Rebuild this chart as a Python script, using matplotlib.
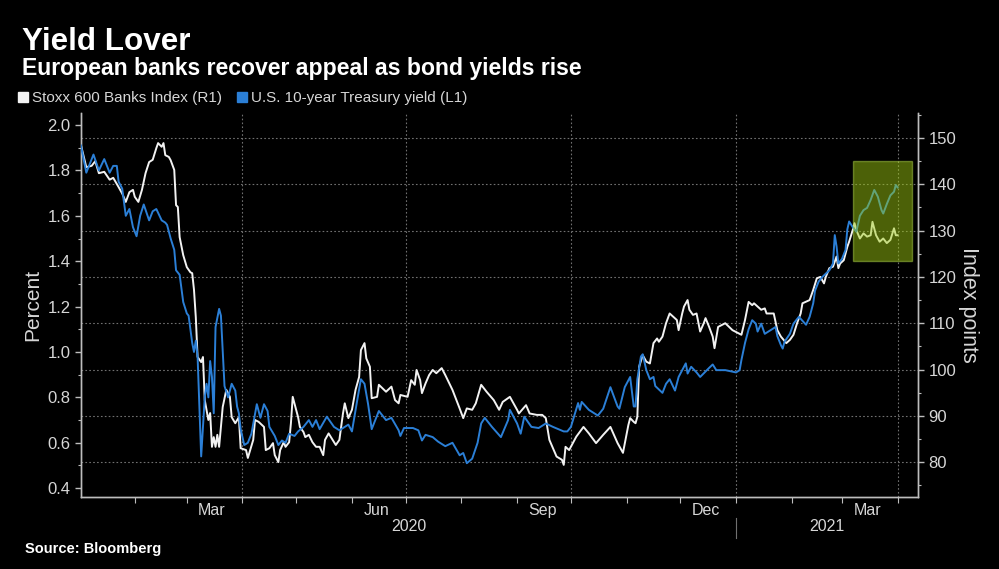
import pandas as pd
import matplotlib
matplotlib.use('Agg')
import matplotlib.pyplot as plt
import matplotlib.dates as mdates
import matplotlib.transforms as mtransforms
from matplotlib.lines import Line2D
from matplotlib.patches import Rectangle
from matplotlib.ticker import MultipleLocator, FormatStrFormatter

plt.rcParams['font.family'] = ['Liberation Sans', 'DejaVu Sans']

# Stoxx 600 Banks Index (right axis, index points)
bank_dates = [
    '2020-01-02', '2020-01-05', '2020-01-08', '2020-01-10', '2020-01-12', '2020-01-15', '2020-01-18',
    '2020-01-20', '2020-01-23', '2020-01-25', '2020-01-27', '2020-01-29', '2020-01-31', '2020-02-01',
    '2020-02-03', '2020-02-05', '2020-02-07', '2020-02-09', '2020-02-11', '2020-02-13', '2020-02-14',
    '2020-02-16', '2020-02-17', '2020-02-18', '2020-02-20', '2020-02-21', '2020-02-23', '2020-02-24',
    '2020-02-25', '2020-02-26', '2020-02-28', '2020-03-01', '2020-03-03', '2020-03-04', '2020-03-05',
    '2020-03-06', '2020-03-07', '2020-03-09', '2020-03-10', '2020-03-11', '2020-03-12', '2020-03-13',
    '2020-03-14', '2020-03-15', '2020-03-16', '2020-03-17', '2020-03-18', '2020-03-19', '2020-03-21',
    '2020-03-23', '2020-03-25', '2020-03-26', '2020-03-28', '2020-03-30', '2020-03-31', '2020-04-03',
    '2020-04-04', '2020-04-07', '2020-04-08', '2020-04-10', '2020-04-13', '2020-04-14', '2020-04-16',
    '2020-04-18', '2020-04-19', '2020-04-21', '2020-04-22', '2020-04-24', '2020-04-25', '2020-04-27',
    '2020-04-28', '2020-04-29', '2020-05-02', '2020-05-03', '2020-05-05', '2020-05-06', '2020-05-08',
    '2020-05-10', '2020-05-12', '2020-05-14', '2020-05-16', '2020-05-17', '2020-05-19', '2020-05-23',
    '2020-05-25', '2020-05-27', '2020-05-28', '2020-05-30', '2020-06-01', '2020-06-03', '2020-06-05',
    '2020-06-06', '2020-06-08', '2020-06-09', '2020-06-11', '2020-06-12', '2020-06-15', '2020-06-16',
    '2020-06-20', '2020-06-23', '2020-06-25', '2020-06-27', '2020-06-28', '2020-07-02', '2020-07-04',
    '2020-07-06', '2020-07-07', '2020-07-09', '2020-07-10', '2020-07-12', '2020-07-14', '2020-07-16',
    '2020-07-18', '2020-07-21', '2020-07-23', '2020-07-27', '2020-07-31', '2020-08-02', '2020-08-04',
    '2020-08-07', '2020-08-09', '2020-08-12', '2020-08-15', '2020-08-19', '2020-08-22', '2020-08-24',
    '2020-08-28', '2020-09-01', '2020-09-02', '2020-09-06', '2020-09-08', '2020-09-12', '2020-09-15',
    '2020-09-17', '2020-09-19', '2020-09-23', '2020-09-26', '2020-09-27', '2020-09-28', '2020-09-30',
    '2020-10-04', '2020-10-08', '2020-10-11', '2020-10-15', '2020-10-19', '2020-10-23', '2020-10-27',
    '2020-10-30', '2020-11-02', '2020-11-03', '2020-11-05', '2020-11-06', '2020-11-07', '2020-11-08',
    '2020-11-10', '2020-11-12', '2020-11-14', '2020-11-16', '2020-11-18', '2020-11-19', '2020-11-21',
    '2020-11-23', '2020-11-25', '2020-11-27', '2020-11-29', '2020-11-30', '2020-12-02', '2020-12-03',
    '2020-12-05', '2020-12-06', '2020-12-08', '2020-12-10', '2020-12-12', '2020-12-14', '2020-12-15',
    '2020-12-17', '2020-12-19', '2020-12-20', '2020-12-22', '2020-12-26', '2020-12-30', '2021-01-04',
    '2021-01-06', '2021-01-08', '2021-01-10', '2021-01-11', '2021-01-13', '2021-01-15', '2021-01-17',
    '2021-01-18', '2021-01-22', '2021-01-24', '2021-01-26', '2021-01-29', '2021-01-31', '2021-02-02',
    '2021-02-04', '2021-02-06', '2021-02-07', '2021-02-11', '2021-02-13', '2021-02-15', '2021-02-17',
    '2021-02-19', '2021-02-20', '2021-02-22', '2021-02-24', '2021-02-26', '2021-02-27', '2021-02-28',
    '2021-03-02', '2021-03-04', '2021-03-05', '2021-03-07', '2021-03-08', '2021-03-09', '2021-03-11',
    '2021-03-13', '2021-03-15', '2021-03-17', '2021-03-18', '2021-03-20', '2021-03-22', '2021-03-24',
    '2021-03-26', '2021-03-28', '2021-03-30', '2021-03-31', '2021-04-01',
]
bank_index = [
    148.5, 143.7, 144.0, 145.0, 142.4, 142.7, 141.0,
    141.4, 139.4, 138.0, 136.2, 138.3, 138.8, 137.3,
    136.2, 138.8, 142.4, 144.8, 145.3, 147.8, 148.9,
    148.1, 148.9, 146.3, 145.9, 145.2, 143.1, 135.5,
    135.1, 128.6, 124.7, 122.1, 121.0, 120.8, 117.2,
    111.3, 102.7, 101.6, 102.7, 93.4, 91.3, 89.1,
    90.6, 83.3, 85.4, 83.3, 85.9, 83.3, 91.9,
    95.6, 94.1, 89.7, 88.4, 89.7, 83.0, 82.6,
    80.9, 84.8, 89.1, 88.7, 87.6, 82.6, 83.0,
    84.1, 81.5, 80.0, 82.6, 84.3, 83.3, 84.3,
    88.4, 94.1, 89.7, 87.6, 86.5, 85.4, 85.9,
    84.3, 83.3, 83.3, 81.5, 84.8, 86.2, 83.7,
    84.8, 90.5, 92.7, 89.5, 91.3, 95.6, 98.4,
    104.2, 105.7, 102.4, 100.6, 93.8, 94.1, 96.7,
    95.2, 96.3, 93.4, 92.7, 94.5, 94.1, 97.7,
    96.7, 99.9, 97.7, 94.9, 97.0, 98.8, 99.9,
    99.2, 100.3, 98.8, 95.6, 91.6, 89.5, 91.6,
    91.3, 92.7, 96.7, 95.2, 93.4, 91.3, 93.0,
    94.1, 91.3, 90.5, 92.3, 90.5, 90.2, 90.2,
    89.5, 84.8, 81.2, 80.5, 79.4, 83.3, 82.6,
    85.5, 87.6, 86.2, 84.1, 85.9, 87.6, 84.1,
    82.0, 88.0, 89.5, 88.7, 88.4, 89.8, 100.6,
    103.1, 101.7, 101.3, 105.7, 106.7, 106.0, 107.1,
    110.0, 112.1, 111.4, 110.7, 108.5, 112.1, 113.6,
    115.0, 112.9, 111.8, 112.1, 108.2, 110.0, 111.1,
    109.2, 107.1, 104.6, 109.2, 110.0, 108.5, 107.5,
    110.7, 114.6, 113.9, 114.3, 113.6, 112.9, 113.2,
    112.1, 112.1, 108.5, 107.1, 105.7, 106.4, 107.5,
    110.0, 112.1, 114.3, 115.0, 117.2, 119.7, 120.0,
    118.6, 120.0, 121.9, 122.2, 124.4, 121.9, 122.9,
    123.6, 126.5, 127.6, 130.1, 131.6, 130.1, 128.3,
    129.4, 128.7, 129.0, 131.9, 129.0, 127.6, 128.3,
    127.3, 128.0, 130.5, 129.0, 129.0,
]

# U.S. 10-year Treasury yield (left axis, percent)
yield_dates = [
    '2020-01-02', '2020-01-05', '2020-01-07', '2020-01-09', '2020-01-12', '2020-01-15', '2020-01-18',
    '2020-01-20', '2020-01-22', '2020-01-23', '2020-01-25', '2020-01-27', '2020-01-29', '2020-01-31',
    '2020-02-02', '2020-02-04', '2020-02-06', '2020-02-09', '2020-02-11', '2020-02-13', '2020-02-16',
    '2020-02-18', '2020-02-19', '2020-02-21', '2020-02-23', '2020-02-24', '2020-02-26', '2020-02-28',
    '2020-03-01', '2020-03-02', '2020-03-04', '2020-03-05', '2020-03-06', '2020-03-07', '2020-03-09',
    '2020-03-11', '2020-03-12', '2020-03-13', '2020-03-14', '2020-03-15', '2020-03-16', '2020-03-17',
    '2020-03-19', '2020-03-20', '2020-03-22', '2020-03-24', '2020-03-26', '2020-03-28', '2020-03-29',
    '2020-03-30', '2020-03-31', '2020-04-02', '2020-04-04', '2020-04-06', '2020-04-09', '2020-04-11',
    '2020-04-13', '2020-04-15', '2020-04-16', '2020-04-19', '2020-04-21', '2020-04-23', '2020-04-25',
    '2020-04-27', '2020-04-30', '2020-05-02', '2020-05-05', '2020-05-08', '2020-05-10', '2020-05-12',
    '2020-05-14', '2020-05-18', '2020-05-22', '2020-05-25', '2020-05-30', '2020-06-01', '2020-06-04',
    '2020-06-06', '2020-06-08', '2020-06-10', '2020-06-12', '2020-06-15', '2020-06-16', '2020-06-20',
    '2020-06-23', '2020-06-27', '2020-06-28', '2020-06-30', '2020-07-05', '2020-07-08', '2020-07-10',
    '2020-07-12', '2020-07-16', '2020-07-19', '2020-07-23', '2020-07-27', '2020-07-31', '2020-08-02',
    '2020-08-04', '2020-08-07', '2020-08-10', '2020-08-12', '2020-08-14', '2020-08-18', '2020-08-23',
    '2020-08-27', '2020-08-28', '2020-09-01', '2020-09-03', '2020-09-05', '2020-09-09', '2020-09-13',
    '2020-09-17', '2020-09-21', '2020-09-27', '2020-09-29', '2020-10-01', '2020-10-05', '2020-10-06',
    '2020-10-07', '2020-10-11', '2020-10-16', '2020-10-19', '2020-10-23', '2020-10-27', '2020-10-28',
    '2020-10-31', '2020-11-03', '2020-11-05', '2020-11-06', '2020-11-07', '2020-11-09', '2020-11-10',
    '2020-11-12', '2020-11-14', '2020-11-16', '2020-11-17', '2020-11-21', '2020-11-23', '2020-11-25',
    '2020-11-28', '2020-11-30', '2020-12-04', '2020-12-05', '2020-12-07', '2020-12-10', '2020-12-12',
    '2020-12-17', '2020-12-19', '2020-12-21', '2020-12-26', '2021-01-01', '2021-01-03', '2021-01-04',
    '2021-01-06', '2021-01-08', '2021-01-10', '2021-01-12', '2021-01-13', '2021-01-15', '2021-01-17',
    '2021-01-21', '2021-01-23', '2021-01-24', '2021-01-26', '2021-01-27', '2021-01-28', '2021-01-31',
    '2021-02-02', '2021-02-05', '2021-02-09', '2021-02-11', '2021-02-13', '2021-02-14', '2021-02-16',
    '2021-02-18', '2021-02-22', '2021-02-24', '2021-02-25', '2021-02-26', '2021-02-27', '2021-03-01',
    '2021-03-03', '2021-03-04', '2021-03-05', '2021-03-07', '2021-03-09', '2021-03-11', '2021-03-13',
    '2021-03-15', '2021-03-17', '2021-03-19', '2021-03-21', '2021-03-23', '2021-03-24', '2021-03-26',
    '2021-03-28', '2021-03-30', '2021-03-31', '2021-04-01',
]
yield_pct = [
    1.91, 1.79, 1.83, 1.87, 1.80, 1.85, 1.79,
    1.82, 1.82, 1.75, 1.72, 1.60, 1.63, 1.55,
    1.51, 1.60, 1.65, 1.58, 1.62, 1.63, 1.58,
    1.57, 1.56, 1.50, 1.45, 1.36, 1.34, 1.22,
    1.17, 1.16, 1.04, 1.00, 1.05, 0.98, 0.54,
    0.80, 0.86, 0.80, 0.96, 0.89, 0.73, 1.11,
    1.19, 1.16, 0.85, 0.80, 0.86, 0.83, 0.76,
    0.73, 0.66, 0.59, 0.60, 0.64, 0.77, 0.71,
    0.77, 0.74, 0.67, 0.63, 0.59, 0.61, 0.60,
    0.64, 0.63, 0.65, 0.67, 0.70, 0.67, 0.70,
    0.66, 0.715, 0.67, 0.655, 0.68, 0.65, 0.79,
    0.88, 0.86, 0.77, 0.66, 0.72, 0.74, 0.70,
    0.71, 0.655, 0.63, 0.665, 0.665, 0.655, 0.61,
    0.635, 0.625, 0.605, 0.585, 0.60, 0.545, 0.555,
    0.51, 0.53, 0.60, 0.685, 0.71, 0.67, 0.625,
    0.70, 0.745, 0.685, 0.64, 0.715, 0.67, 0.665,
    0.685, 0.67, 0.65, 0.65, 0.67, 0.775, 0.745,
    0.78, 0.745, 0.72, 0.75, 0.845, 0.76, 0.75,
    0.845, 0.89, 0.76, 0.76, 0.88, 0.98, 0.99,
    0.92, 0.88, 0.89, 0.85, 0.82, 0.86, 0.88,
    0.83, 0.89, 0.95, 0.905, 0.935, 0.91, 0.89,
    0.93, 0.945, 0.92, 0.92, 0.91, 0.92, 0.965,
    1.04, 1.10, 1.14, 1.125, 1.09, 1.125, 1.08,
    1.10, 1.11, 1.07, 1.03, 1.015, 1.045, 1.08,
    1.125, 1.155, 1.12, 1.155, 1.215, 1.27, 1.31,
    1.33, 1.36, 1.39, 1.515, 1.465, 1.39, 1.41,
    1.45, 1.54, 1.575, 1.55, 1.53, 1.60, 1.625,
    1.635, 1.67, 1.714, 1.684, 1.626, 1.61, 1.652,
    1.69, 1.706, 1.736, 1.725,
]

# highlighted recent stretch (dates, percent on the left axis)
highlight_dates = ['2021-03-07', '2021-04-09']
highlight_pct = [1.40, 1.84]

x_range = ['2020-01-02 00:00', '2021-04-12 10:00']
yield_range = [0.361, 2.053]
bank_range = [72.46, 155.4]

BG = 'black'
TXT = '#d6d6d6'
SPINE = '#bdbdbd'
GRID = '#707070'
BLUE = '#2b7fd6'
WHITE = '#f2f2f2'

bank_x = pd.to_datetime(bank_dates)
yield_x = pd.to_datetime(yield_dates)

fig = plt.figure(figsize=(9.99, 5.69), dpi=100, facecolor=BG)
ax2 = fig.add_axes([0.081, 0.1265, 0.838, 0.6749])
ax = ax2.twinx()
ax.yaxis.tick_left()
ax.yaxis.set_label_position('left')
ax2.yaxis.tick_right()
ax2.yaxis.set_label_position('right')
ax2.set_facecolor(BG)
ax.patch.set_visible(False)

ax2.plot(bank_x, bank_index, color=WHITE, lw=1.4, zorder=3)
ax.plot(yield_x, yield_pct, color=BLUE, lw=1.4, zorder=3)

xmin, xmax = pd.to_datetime(x_range, format='%Y-%m-%d %H:%M')
ax2.set_xlim(xmin, xmax)
ax.set_ylim(*yield_range)
ax2.set_ylim(*bank_range)

# grid: horizontal on index ticks, vertical at quarter starts
ax2.yaxis.set_major_locator(MultipleLocator(10))
ax2.yaxis.set_minor_locator(MultipleLocator(5))
ax2.grid(axis='y', which='major', color=GRID, ls=(0, (1.5, 2)), lw=0.8)
for q in pd.date_range('2020-01-01', '2021-06-30', freq='QS'):
    if xmin < q < xmax:
        ax2.axvline(q, color=GRID, ls=(0, (1.5, 2)), lw=0.8, zorder=1)

ax.yaxis.set_major_locator(MultipleLocator(0.2))
ax.yaxis.set_minor_locator(MultipleLocator(0.1))
ax.yaxis.set_major_formatter(FormatStrFormatter('%.1f'))

ax2.xaxis.set_major_locator(mdates.MonthLocator(bymonth=[3, 6, 9, 12], bymonthday=15))
ax2.xaxis.set_major_formatter(mdates.DateFormatter('%b'))
ax2.xaxis.set_minor_locator(mdates.MonthLocator())

for a in (ax, ax2):
    a.spines['top'].set_visible(False)
    for s in ('left', 'right', 'bottom'):
        a.spines[s].set_color(SPINE)
        a.spines[s].set_linewidth(1.0)
    a.tick_params(axis='y', which='major', colors=SPINE, labelcolor=TXT, labelsize=12, length=4, width=1)
    a.tick_params(axis='y', which='minor', colors=SPINE, length=2.5, width=0.8)
ax2.tick_params(axis='x', which='major', length=0, labelcolor=TXT, labelsize=11.5, pad=4)
ax2.tick_params(axis='x', which='minor', colors=SPINE, length=4, width=0.8)

# year labels and separator under the month labels
trans = mtransforms.blended_transform_factory(ax2.transData, ax2.transAxes)
for year in (2020, 2021):
    lo = max(xmin, pd.Timestamp(f'{year}-01-01'))
    hi = min(xmax, pd.Timestamp(f'{year + 1}-01-01'))
    ax2.text(lo + (hi - lo) / 2, -0.078, str(year), transform=trans, ha='center', va='center',
             color=TXT, fontsize=11.5)
    if year > 2020:
        ax2.plot([lo, lo], [-0.055, -0.108], transform=trans, color=GRID, lw=0.8, clip_on=False)

# highlight box on top of both lines
h0, h1 = pd.to_datetime(highlight_dates)
ax.add_patch(Rectangle((mdates.date2num(h0), highlight_pct[0]),
                       mdates.date2num(h1) - mdates.date2num(h0),
                       highlight_pct[1] - highlight_pct[0],
                       facecolor='#a0cc12', alpha=0.48, edgecolor='#b2d84a', lw=1.0, zorder=5))

fig.text(33 / 999, 1 - 305 / 569, 'Percent', rotation=90, ha='center', va='center', color=TXT, fontsize=15)
fig.text(968 / 999, 1 - 305 / 569, 'Index points', rotation=270, ha='center', va='center', color=TXT, fontsize=15.5)

fig.text(0.022, 1 - 50 / 569, 'Yield Lover', color='white', fontsize=22.6, fontweight='bold', va='baseline')
fig.text(0.022, 1 - 75 / 569, 'European banks recover appeal as bond yields rise', color='white',
         fontsize=16.6, fontweight='bold', va='baseline')
fig.text(0.025, 1 - 549 / 569, 'Source: Bloomberg', color='white', fontsize=10.5, fontweight='bold', va='center')

handles = [Line2D([], [], marker='s', ls='', color=WHITE, markersize=7),
           Line2D([], [], marker='s', ls='', color=BLUE, markersize=7)]
fig.legend(handles, ['Stoxx 600 Banks Index (R1)', 'U.S. 10-year Treasury yield (L1)'],
           loc='center left', bbox_to_anchor=(0.018, 1 - 98 / 569), ncol=2, frameon=False,
           handlelength=0.7, handletextpad=0.2, columnspacing=1.0, borderaxespad=0,
           borderpad=0, labelcolor=TXT, fontsize=11)

fig.savefig('out.png', dpi=100, facecolor=BG)
